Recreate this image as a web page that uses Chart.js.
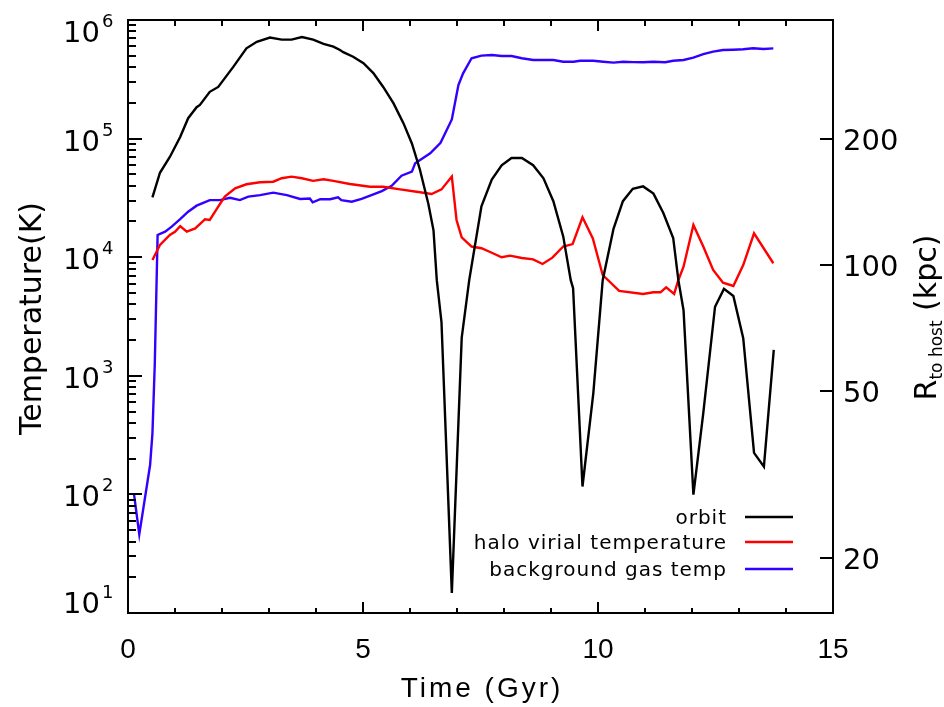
<!DOCTYPE html>
<html><head><meta charset="utf-8">
<script src="https://cdn.jsdelivr.net/npm/chart.js@4.4.1/dist/chart.umd.min.js"></script>
<style>html,body{margin:0;padding:0;background:#fff;}</style>
</head><body>
<canvas id="c" width="944" height="707"></canvas>
<script>
// ---- data ----
const orbitTime = [0.52,0.68,0.89,1.11,1.28,1.46,1.53,1.74,1.92,2.24,2.52,2.74,3.02,3.27,3.48,3.70,3.94,4.16,4.37,4.51,4.58,4.79,5.01,5.22,5.43,5.65,5.86,6.04,6.21,6.39,6.50,6.57,6.67,6.89,7.10,7.26,7.52,7.74,7.95,8.16,8.38,8.62,8.84,9.05,9.26,9.42,9.47,9.67,9.90,10.10,10.33,10.53,10.74,10.96,11.18,11.39,11.60,11.71,11.82,12.03,12.24,12.49,12.68,12.88,13.09,13.32,13.53,13.74];
const orbitR = [145,166,181,202,224,238,241,259,266,297,329,341,349,345,345,350,345,337,332,326,322,314,303,287,266,243,218,195,169,140,121,92,73,16.5,67,92,138,160,173,180,180,173,161,142,117,92,88,29.6,49.4,92,122,142,152,154,148,133,116,92,78,28.3,44.3,79.5,87.7,84.3,66.9,35.6,33,62.7];

const virialTime = [0.52,0.68,0.89,1.00,1.11,1.25,1.43,1.64,1.74,1.92,2.06,2.28,2.52,2.81,3.09,3.27,3.48,3.70,3.94,4.16,4.37,4.72,5.15,5.43,5.79,6.14,6.46,6.67,6.89,6.99,7.10,7.31,7.52,7.74,7.95,8.13,8.38,8.62,8.82,9.03,9.26,9.46,9.67,9.89,10.10,10.45,10.96,11.18,11.33,11.45,11.62,11.71,11.82,12.03,12.24,12.45,12.66,12.88,13.09,13.32,13.73];
const virialT = [9470,12700,15400,16400,18300,16400,17500,20900,20600,26700,32400,38100,41200,42800,43300,46300,47800,46300,44000,45400,44000,41400,39300,39300,37300,35600,34100,37300,47800,20600,14700,12300,11900,10900,9980,10300,9850,9590,8770,9910,12300,12900,21700,14400,7080,5190,4900,5060,5060,5570,4900,6430,8310,18700,12300,7800,6100,5720,8590,15900,8890];

const gasTime = [0.13,0.24,0.47,0.52,0.57,0.63,0.79,0.93,1.11,1.28,1.46,1.74,1.96,2.17,2.38,2.56,2.81,3.09,3.38,3.66,3.87,3.93,4.09,4.30,4.47,4.54,4.76,4.97,5.18,5.40,5.61,5.82,6.04,6.11,6.43,6.65,6.89,7.03,7.13,7.31,7.52,7.74,7.95,8.16,8.38,8.62,9.05,9.26,9.48,9.62,9.90,10.11,10.33,10.54,10.75,10.96,11.18,11.43,11.60,11.82,12.03,12.24,12.45,12.66,12.88,13.09,13.30,13.52,13.73];
const gasT = [99,46,177,327,1270,15400,16400,18100,20900,24200,27200,30300,30300,31700,30300,32400,33400,35000,33400,31000,31300,29000,30800,30800,32000,30300,29400,31000,33400,36100,40000,48700,52600,61900,75200,92300,145000,283000,355000,476000,501000,507000,497000,497000,476000,460000,460000,445000,445000,453000,453000,445000,437000,445000,441000,440000,445000,440000,453000,460000,481000,516000,541000,558000,562000,566000,577000,570000,577000];

const seriesLabels = ['orbit', 'halo virial temperature', 'background gas temp'];
const seriesColors = ['#000000', '#ff0000', '#3300ff'];
const xTickValues = [0, 5, 10, 15];
const leftExponents = [1, 2, 3, 4, 5, 6];
const rightTickValues = [20, 50, 100, 200];

const pts = (xs, ys) => xs.map((v, i) => ({x: v, y: ys[i]}));

const idlAxes = {
  id: 'idlAxes',
  afterDraw(chart) {
    const {ctx, chartArea: a, scales} = chart;
    const sx = scales.x, sy = scales.y, sy2 = scales.y2;
    ctx.save();
    ctx.strokeStyle = '#000';
    ctx.fillStyle = '#000';
    ctx.lineWidth = 2;
    ctx.lineCap = 'butt';
    const seg = (x1, y1, x2, y2) => { ctx.beginPath(); ctx.moveTo(x1, y1); ctx.lineTo(x2, y2); ctx.stroke(); };
    ctx.strokeRect(a.left, a.top, a.right - a.left, a.bottom - a.top);
    // x ticks (bottom and top), every 1 Gyr
    for (let v = sx.min; v <= sx.max; v++) {
      const px = Math.round(sx.getPixelForValue(v));
      const major = xTickValues.includes(v);
      seg(px, a.bottom, px, a.bottom - (major ? 11 : 5));
      seg(px, a.top, px, a.top + (major ? 11 : 6));
    }
    // left log ticks
    leftExponents.forEach(e => {
      const py = Math.round(sy.getPixelForValue(Math.pow(10, e)));
      seg(a.left, py, a.left + 14, py);
      if (e < 6) {
        for (let m = 2; m <= 9; m++) {
          const pm = Math.round(sy.getPixelForValue(m * Math.pow(10, e)));
          seg(a.left, pm, a.left + 8, pm);
        }
      }
    });
    // right ticks
    rightTickValues.forEach(v => {
      const py = Math.round(sy2.getPixelForValue(v));
      seg(a.right - 13, py, a.right, py);
    });
    // x labels
    ctx.font = '28px "Liberation Sans"';
    ctx.textAlign = 'center';
    ctx.textBaseline = 'alphabetic';
    xTickValues.forEach(v => {
      ctx.fillText(String(v), sx.getPixelForValue(v), a.bottom + 45);
    });
    // left labels 10^n
    leftExponents.forEach(e => {
      const py = sy.getPixelForValue(Math.pow(10, e));
      const base = Math.min(a.bottom, Math.max(a.top + 22, py + 12));
      ctx.font = '29px "DejaVu Sans"';
      ctx.textAlign = 'right';
      ctx.fillText('10', a.left - 28, base);
      ctx.font = '18px "DejaVu Sans"';
      ctx.textAlign = 'left';
      ctx.fillText(String(e), a.left - 26, base - 15);
    });
    // right labels
    ctx.font = '29px "DejaVu Sans"';
    ctx.textAlign = 'left';
    rightTickValues.forEach(v => {
      ctx.fillText(String(v), a.right + 10, sy2.getPixelForValue(v) + 11);
    });
    // x title
    ctx.font = '28px "Liberation Sans"';
    ctx.textAlign = 'center';
    ctx.letterSpacing = '3px';
    ctx.fillText('Time (Gyr)', 482, 697);
    ctx.letterSpacing = '0px';
    const midY = (a.top + a.bottom) / 2;
    // left title
    ctx.save();
    ctx.translate(41, midY + 2);
    ctx.rotate(-Math.PI / 2);
    ctx.font = '30px "DejaVu Sans"';
    ctx.textAlign = 'center';
    ctx.fillText('Temperature(K)', 0, 0);
    ctx.restore();
    // right title  R_{to host} (kpc)
    ctx.save();
    ctx.translate(936, midY + 1);
    ctx.rotate(-Math.PI / 2);
    ctx.textAlign = 'left';
    ctx.font = '30px "DejaVu Sans"';
    const wR = ctx.measureText('R').width;
    const wK = ctx.measureText(' (kpc)').width;
    ctx.font = '17px "DejaVu Sans"';
    const wS = ctx.measureText('to host').width;
    let xs = -(wR + wS + wK) / 2;
    ctx.font = '30px "DejaVu Sans"';
    ctx.fillText('R', xs, 0); xs += wR;
    ctx.font = '17px "DejaVu Sans"';
    ctx.fillText('to host', xs, 6); xs += wS;
    ctx.font = '30px "DejaVu Sans"';
    ctx.fillText(' (kpc)', xs, 0);
    ctx.restore();
    // legend
    ctx.font = '20px "DejaVu Sans"';
    ctx.letterSpacing = '1px';
    ctx.textAlign = 'right';
    const rowY = [517, 542, 569];
    chart.data.datasets.forEach((ds, i) => {
      ctx.fillText(ds.label, 727, rowY[i] + 7);
      ctx.strokeStyle = ds.borderColor;
      ctx.lineWidth = 2.5;
      seg(745, rowY[i], 793, rowY[i]);
    });
    ctx.restore();
  }
};

new Chart(document.getElementById('c'), {
  type: 'line',
  data: {
    datasets: [
      {label: seriesLabels[0], data: pts(orbitTime, orbitR), yAxisID: 'y2', borderColor: seriesColors[0]},
      {label: seriesLabels[1], data: pts(virialTime, virialT), yAxisID: 'y', borderColor: seriesColors[1]},
      {label: seriesLabels[2], data: pts(gasTime, gasT), yAxisID: 'y', borderColor: seriesColors[2]}
    ]
  },
  options: {
    responsive: false,
    animation: false,
    layout: {padding: {left: 128, right: 111, top: 20, bottom: 94}},
    plugins: {legend: {display: false}, tooltip: {enabled: false}},
    elements: {point: {radius: 0}, line: {tension: 0, borderWidth: 2.4, fill: false}},
    scales: {
      x: {type: 'linear', min: 0, max: 15, display: false},
      y: {type: 'logarithmic', position: 'left', min: 10, max: 1e6, display: false},
      y2: {type: 'logarithmic', position: 'right', min: 14.77, max: 384.3, display: false}
    }
  },
  plugins: [idlAxes]
});
</script>
</body></html>
